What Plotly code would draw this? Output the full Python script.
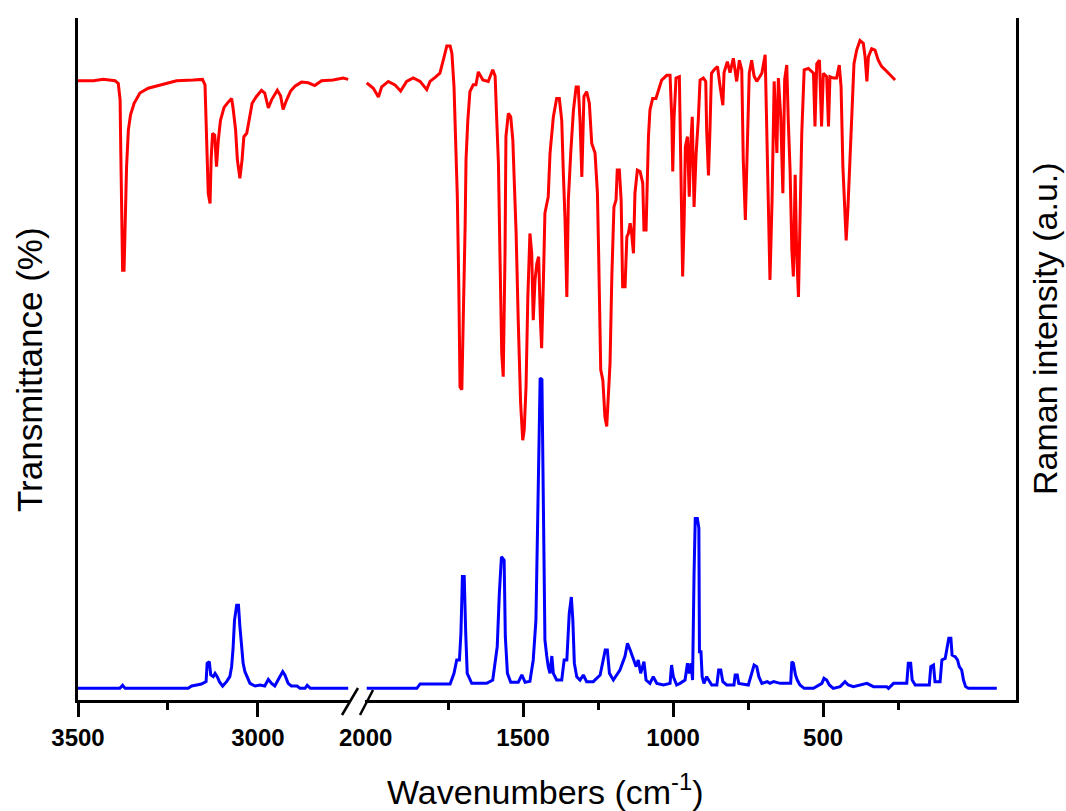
import plotly.graph_objects as go

# ---------------- data ----------------
# IR spectrum (transmittance, arbitrary %-scale), high-wavenumber segment
ir_left_wn = [3500, 3457, 3430, 3397, 3388, 3383, 3381, 3379, 3376, 3372, 3369, 3365, 3360, 3354,
              3344, 3328, 3305, 3272, 3226, 3180, 3154, 3147, 3143, 3138, 3133, 3130, 3126, 3120,
              3115, 3110, 3104, 3094, 3082, 3073, 3069, 3062, 3057, 3050, 3044, 3039, 3031, 3024,
              3016, 3004, 2990, 2981, 2971, 2962, 2946, 2937, 2930, 2920, 2909, 2897, 2879, 2860,
              2842, 2823, 2791, 2763, 2749]
ir_left_t = [90.8, 90.8, 91.0, 90.8, 90.4, 88.0, 80.2, 71.8, 63.0, 63.0, 71.4, 78.2, 83.6, 85.8,
             87.5, 89.0, 89.7, 90.2, 90.8, 90.9, 91.0, 90.2, 84.1, 74.3, 72.8, 79.2, 83.1, 82.8,
             78.2, 82.1, 85.0, 86.9, 87.7, 88.2, 86.8, 83.6, 79.2, 76.5, 79.2, 82.6, 83.1, 85.0,
             87.5, 88.5, 89.4, 89.0, 86.8, 88.0, 89.4, 88.6, 86.6, 88.0, 89.3, 90.0, 90.6, 90.5,
             90.1, 90.8, 90.9, 91.2, 91.0]

# IR spectrum, fingerprint segment
ir_right_wn = [2021, 1999, 1982, 1971, 1949, 1927, 1908, 1888, 1866, 1843, 1821, 1810, 1793, 1777,
               1766, 1754, 1743, 1737, 1730, 1723, 1719, 1714, 1710, 1704, 1699, 1693, 1690, 1684,
               1677, 1666, 1657, 1649, 1634, 1616, 1601, 1593, 1588, 1582, 1577, 1571, 1566, 1560,
               1557, 1549, 1541, 1534, 1529, 1523, 1516, 1508, 1501, 1496, 1490, 1484, 1477, 1471,
               1466, 1460, 1454, 1448, 1442, 1438, 1432, 1427, 1416, 1410, 1399, 1388, 1379, 1371,
               1366, 1360, 1354, 1349, 1341, 1332, 1323, 1316, 1310, 1304, 1297, 1288, 1279, 1271,
               1260, 1252, 1248, 1245, 1241, 1234, 1227, 1221, 1216, 1210, 1204, 1197, 1190, 1186,
               1179, 1173, 1168, 1160, 1154, 1149, 1143, 1138, 1132, 1127, 1119, 1110, 1101, 1097,
               1090, 1086, 1082, 1077, 1068, 1057, 1049, 1038, 1021, 1010, 1004, 1001, 997, 990,
               979, 974, 968, 963, 959, 952, 946, 941, 936, 930, 923, 916, 910, 899,
               891, 888, 882, 877, 872, 863, 852, 843, 834, 830, 819, 810, 799, 788,
               779, 771, 766, 759, 752, 746, 738, 730, 721, 704, 693, 688, 682, 677,
               670, 663, 654, 649, 641, 634, 628, 621, 616, 610, 604, 599, 593, 588,
               582, 577, 571, 563, 549, 532, 527, 521, 512, 505, 499, 488, 482, 477,
               466, 455, 446, 440, 434, 428, 423, 417, 410, 403, 397, 388, 377, 366,
               360, 354, 349, 338, 327, 316, 305, 293, 277, 260]
ir_right_t = [90.5, 89.7, 88.4, 89.9, 90.7, 90.2, 89.3, 90.7, 91.2, 90.7, 89.5, 90.7, 91.3, 91.9,
              93.8, 95.9, 95.9, 94.8, 89.9, 80.2, 73.8, 60.6, 45.9, 45.5, 54.7, 69.4, 79.2, 85.0,
              89.2, 90.2, 90.2, 92.1, 90.9, 90.7, 92.4, 91.5, 85.5, 78.7, 65.5, 50.8, 47.4, 65.5,
              82.6, 86.0, 85.5, 82.1, 75.8, 68.4, 55.7, 43.5, 38.1, 39.6, 45.9, 59.1, 68.4, 65.5,
              55.7, 61.6, 64.0, 65.0, 55.7, 51.6, 61.6, 71.4, 73.8, 80.2, 85.5, 88.2, 88.2, 85.0,
              77.7, 70.4, 59.1, 73.3, 80.2, 86.5, 89.9, 89.9, 85.0, 76.7, 88.5, 89.2, 87.5, 81.6,
              80.2, 74.3, 65.5, 56.7, 48.4, 46.9, 41.5, 40.1, 44.5, 49.4, 62.1, 72.3, 73.3, 77.7,
              77.7, 73.3, 60.6, 60.6, 67.9, 68.4, 69.9, 68.4, 65.5, 74.3, 77.7, 77.5, 75.8, 68.9,
              68.9, 75.3, 82.6, 86.5, 88.2, 88.2, 89.4, 90.9, 91.6, 91.6, 85.0, 77.5, 85.0, 91.2,
              91.4, 76.2, 62.1, 70.4, 81.1, 82.6, 73.8, 81.6, 85.5, 72.3, 80.2, 85.0, 90.9, 91.2,
              90.7, 83.6, 76.9, 83.6, 91.9, 92.4, 92.9, 89.9, 87.2, 92.0, 93.6, 92.0, 94.1, 90.7,
              93.8, 92.4, 79.2, 70.4, 81.1, 91.9, 93.8, 91.5, 90.7, 91.9, 94.6, 82.6, 73.8, 61.6,
              73.3, 90.7, 80.2, 91.2, 85.5, 74.3, 91.0, 93.1, 85.0, 77.7, 66.0, 62.1, 77.0, 65.5,
              59.1, 71.4, 83.1, 92.4, 92.6, 91.9, 84.1, 93.3, 93.8, 84.1, 91.9, 91.4, 84.1, 91.4,
              91.2, 91.2, 93.1, 89.9, 78.2, 72.3, 67.4, 72.3, 80.6, 87.5, 93.3, 95.3, 96.7, 96.3,
              94.3, 90.7, 94.3, 95.5, 95.3, 93.8, 92.9, 92.4, 91.6, 90.9]

# Raman spectrum (intensity, a.u.), high-wavenumber segment
raman_left_wn = [3500, 3384, 3376, 3369, 3194, 3184, 3170, 3157, 3144, 3141, 3135, 3131, 3124, 3119,
                 3113, 3107, 3098, 3087, 3078, 3073, 3069, 3065, 3059, 3054, 3050, 3045, 3041, 3036,
                 3030, 3022, 3008, 2994, 2981, 2971, 2962, 2953, 2939, 2931, 2925, 2916, 2907, 2891,
                 2883, 2869, 2863, 2854, 2749]
raman_left_i = [1.71, 1.71, 2.15, 1.71, 1.71, 2.05, 2.2, 2.35, 2.69, 5.38, 5.62, 3.67, 3.42, 3.91,
                3.42, 2.69, 2.05, 2.69, 3.42, 4.89, 7.58, 11.7, 13.9, 13.9, 10.75, 7.33, 5.38, 4.15,
                3.42, 2.44, 2.05, 2.2, 2.05, 3.03, 2.44, 2.05, 3.42, 4.15, 3.67, 2.44, 2.05, 2.05,
                1.71, 1.71, 2.15, 1.71, 1.71]

# Raman spectrum, fingerprint / low-wavenumber segment
raman_right_wn = [2021, 1854, 1843, 1743, 1730, 1721, 1712, 1707, 1702, 1696, 1691, 1686, 1671, 1621,
                  1601, 1593, 1586, 1579, 1572, 1563, 1559, 1552, 1541, 1516, 1504, 1493, 1477, 1466,
                  1457, 1450, 1443, 1437, 1432, 1427, 1421, 1416, 1410, 1404, 1399, 1388, 1371, 1363,
                  1354, 1346, 1339, 1334, 1329, 1321, 1310, 1299, 1288, 1266, 1243, 1226, 1219, 1212,
                  1199, 1177, 1160, 1152, 1143, 1132, 1123, 1116, 1108, 1097, 1090, 1077, 1066, 1054,
                  1032, 1010, 1005, 999, 988, 977, 960, 952, 946, 940, 935, 930, 926, 919,
                  914, 912, 907, 903, 897, 888, 879, 871, 854, 848, 841, 834, 821, 797,
                  793, 786, 781, 749, 730, 721, 714, 704, 686, 677, 665, 643, 608, 604,
                  599, 592, 586, 577, 563, 532, 504, 497, 488, 479, 466, 443, 427, 416,
                  399, 371, 354, 332, 310, 288, 282, 265, 221, 216, 208, 203, 193, 146,
                  141, 132, 127, 110, 104, 93, 88, 81, 74, 70, 60, 52, 46, 38,
                  32, 25, 16, -79]
raman_right_i = [1.71, 1.71, 2.35, 2.35, 3.91, 5.87, 5.87, 9.78, 18.1, 18.1, 9.78, 3.91, 2.44, 2.44,
                 2.93, 5.87, 7.82, 15.6, 21.0, 20.5, 9.28, 3.91, 2.59, 2.59, 3.67, 2.59, 2.75, 5.87,
                 11.7, 29.3, 47.2, 47.0, 22.5, 8.8, 6.45, 4.89, 3.91, 6.45, 3.91, 2.93, 2.93, 5.87,
                 5.87, 12.7, 15.1, 11.7, 5.4, 3.42, 2.93, 3.67, 2.69, 2.69, 3.67, 7.33, 7.33, 3.91,
                 2.93, 4.4, 6.45, 8.31, 7.33, 5.87, 4.89, 5.87, 3.91, 5.62, 2.93, 2.44, 3.42, 2.44,
                 2.2, 2.44, 5.13, 3.42, 2.2, 2.44, 2.93, 5.38, 3.9, 5.38, 2.93, 18.6, 26.6, 26.6,
                 25.2, 7.09, 7.09, 3.42, 2.44, 3.42, 2.69, 2.2, 2.2, 4.4, 4.4, 2.69, 2.2, 2.2,
                 3.67, 3.67, 2.44, 2.2, 5.13, 4.89, 3.42, 2.44, 2.69, 2.44, 2.69, 2.44, 2.44, 5.62,
                 5.38, 3.67, 2.93, 2.2, 1.71, 1.71, 2.44, 3.18, 2.93, 2.2, 1.71, 1.96, 2.69, 2.2,
                 1.96, 2.2, 2.44, 1.96, 1.96, 1.96, 1.71, 2.44, 2.44, 5.38, 5.38, 2.93, 2.2, 2.2,
                 4.89, 5.13, 2.69, 2.69, 5.87, 6.1, 7.33, 9.04, 9.04, 6.6, 6.36, 5.87, 4.89, 4.4,
                 2.93, 1.96, 1.71, 1.71]

left_ticks = [3500, 3000]
left_minor = [3250]
right_ticks = [1500, 1000, 500]
right_minor = [1750, 1250, 750, 250]
break_label = "2000"

# ---------------- layout geometry ----------------
# The page's body margin is removed (post_script below), so the figure
# fills the 1066x811 window exactly; geometry is in window pixels.
W, H = 1066, 811
PL, PR, PT, PB = 78, 1016, 18, 700          # plot area edges
ML, MT, MR, MB = PL, PT, W - PR, H - PB
PW, PH = PR - PL, PB - PT


def px(x):   # window pixel -> paper x (decorations only)
    return (x - PL) / PW


def py(y):   # window pixel -> paper y (decorations only)
    return (PB - y) / PH


dom_left = [0, px(350)]
dom_right = [px(365), 1]
range_left = [3500, 2744]
range_right = [2026.7, -143]

RED, BLUE = "#FF0000", "#0000FF"
FONT = "Liberation Sans, Arial, sans-serif"
LW = 3
ALW = 2.5

fig = go.Figure()
fig.add_trace(go.Scatter(x=ir_left_wn, y=ir_left_t, mode="lines",
                         line=dict(color=RED, width=LW), xaxis="x", yaxis="y"))
fig.add_trace(go.Scatter(x=ir_right_wn, y=ir_right_t, mode="lines",
                         line=dict(color=RED, width=LW), xaxis="x2", yaxis="y"))
fig.add_trace(go.Scatter(x=raman_left_wn, y=raman_left_i, mode="lines",
                         line=dict(color=BLUE, width=LW), xaxis="x", yaxis="y2"))
fig.add_trace(go.Scatter(x=raman_right_wn, y=raman_right_i, mode="lines",
                         line=dict(color=BLUE, width=LW), xaxis="x2", yaxis="y2"))

tickfont = dict(family=FONT, size=24, color="black", weight="bold")
common_x = dict(showline=True, linecolor="black", linewidth=ALW, ticks="outside", ticklen=14,
                tickwidth=ALW, tickcolor="black", showgrid=False, zeroline=False,
                tickfont=tickfont, anchor="y")

fig.update_layout(
    width=W, height=H,
    margin=dict(l=ML, r=MR, t=MT, b=MB, pad=0),
    paper_bgcolor="white", plot_bgcolor="white",
    showlegend=False,
    xaxis=dict(domain=dom_left, range=range_left, tickvals=left_ticks,
               ticktext=[str(v) for v in left_ticks],
               minor=dict(tickvals=left_minor, ticks="outside", ticklen=7, tickwidth=ALW,
                          tickcolor="black", showgrid=False),
               **common_x),
    xaxis2=dict(domain=dom_right, range=range_right, tickvals=right_ticks,
                ticktext=[str(v) for v in right_ticks],
                minor=dict(tickvals=right_minor, ticks="outside", ticklen=7, tickwidth=ALW,
                           tickcolor="black", showgrid=False),
                **common_x),
    yaxis=dict(domain=[0, 1], range=[0, 100], anchor="x", side="left", showline=True,
               linecolor="black", linewidth=ALW, ticks="", showticklabels=False,
               showgrid=False, zeroline=False),
    yaxis2=dict(range=[0, 100], overlaying="y", anchor="x2", side="right", showline=True,
                linecolor="black", linewidth=ALW, ticks="", showticklabels=False,
                showgrid=False, zeroline=False),
)

# axis-break marks
for (x0, y0, x1, y1) in [(342, 715, 358, 688), (360, 715, 373, 690)]:
    fig.add_shape(type="line", xref="paper", yref="paper",
                  x0=px(x0), y0=py(y0), x1=px(x1), y1=py(y1),
                  line=dict(color="black", width=ALW))

title_font = dict(family=FONT, size=34, color="black")
fig.add_annotation(text=break_label, xref="paper", yref="paper", x=px(365), y=py(737),
                   xanchor="center", yanchor="middle", showarrow=False, font=tickfont)
fig.add_annotation(text="Wavenumbers (cm<sup>-1</sup>)", xref="paper", yref="paper",
                   x=px(545), y=py(790), xanchor="center", yanchor="middle",
                   showarrow=False, font=title_font)
fig.add_annotation(text="Transmittance (%)", xref="paper", yref="paper",
                   x=px(29), y=py(370), xanchor="center", yanchor="middle", textangle=-90,
                   showarrow=False, font=dict(family=FONT, size=35, color="black"))
fig.add_annotation(text="Raman intensity (a.u.)", xref="paper", yref="paper",
                   x=px(1045), y=py(329), xanchor="center", yanchor="middle", textangle=-90,
                   showarrow=False, font=title_font)

fig.write_html(
    "out.html",
    config={"displayModeBar": False},
    post_script="document.body.style.margin='0px';document.body.style.overflow='hidden';",
)
